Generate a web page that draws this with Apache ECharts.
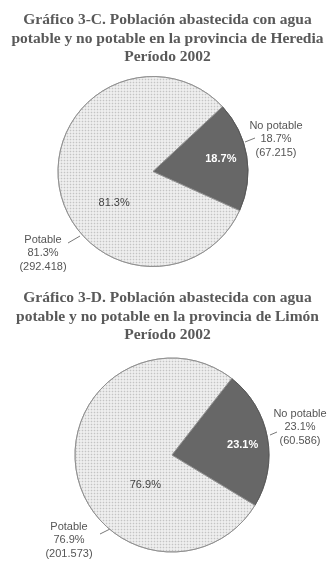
<!DOCTYPE html>
<html>
<head>
<meta charset="utf-8">
<script src="https://cdn.jsdelivr.net/npm/echarts@6/dist/echarts.min.js"></script>
<style>
html,body{margin:0;padding:0;background:#fff;}
#c{width:335px;height:567px;}
</style>
</head>
<body>
<div id="c"></div>
<script>
// ---- data ----
const categories = ['No potable', 'Potable'];
const herediaValues = [67215, 292418];
const limonValues = [60586, 201573];
const titleHeredia = 'Gráfico 3-C. Población abastecida con agua\npotable y no potable en la provincia de Heredia\nPeríodo 2002';
const titleLimon = 'Gráfico 3-D. Población abastecida con agua\npotable y no potable en la provincia de Limón\nPeríodo 2002';

// ---- layout / style ----
const pies = [
  {cx: 153, cy: 171.5, r: 95, start: 43, values: herediaValues,
   inner: [[18, -4], [11, 23]],
   outer: [{x: 276, y: 139, l0: [245, 142], l1: [255, 138]},
           {x: 43, y: 253, l0: [80, 236], l1: [68, 243]}]},
  {cx: 172, cy: 455, r: 97, start: 52, values: limonValues,
   inner: [[20, -1], [24, 21]],
   outer: [{x: 300, y: 427, l0: [270, 435], l1: [277, 432]},
           {x: 69, y: 540, l0: [110, 529], l1: [100, 534]}]}
];
const DARK = '#676767';
const LIGHT = '#f3f3f3';
const NO_DECAL = {symbol: 'rect', symbolSize: 0, color: 'rgba(0,0,0,0)'};
const DOTS = {symbol: 'rect', symbolSize: 0.55, color: '#c4c4c4',
              dashArrayX: [[3, 0]], dashArrayY: [3, 0], rotation: 0};
const fmtNum = v => String(v).replace(/\B(?=(\d{3})+(?!\d))/g, '.');

function mkData(values) {
  return categories.map((n, i) => ({
    name: n, value: values[i],
    itemStyle: i === 0
      ? {color: DARK, borderColor: '#555', borderWidth: 0.8, decal: NO_DECAL}
      : {color: LIGHT, borderColor: '#8a8a8a', borderWidth: 0.8, decal: DOTS}
  }));
}

const series = [];
pies.forEach((p, pi) => {
  series.push({
    type: 'pie', center: [p.cx, p.cy], radius: [0, p.r],
    startAngle: p.start, clockwise: true, percentPrecision: 1,
    silent: true, animation: false,
    data: mkData(p.values),
    label: {
      position: 'inside', formatter: '{d}%',
      fontFamily: 'Liberation Sans, Arial, sans-serif', fontSize: 11,
      color: '#444'
    },
    labelLine: {show: false},
    labelLayout: function (params) {
      const d = p.inner[params.dataIndex];
      return {dx: d[0], dy: d[1]};
    },
    emphasis: {disabled: true}
  });
  series.push({
    type: 'pie', center: [p.cx, p.cy], radius: [0, p.r],
    startAngle: p.start, clockwise: true, percentPrecision: 1,
    silent: true, animation: false,
    data: categories.map((n, i) => ({name: n, value: p.values[i]})),
    itemStyle: {color: 'rgba(0,0,0,0)', decal: NO_DECAL},
    label: {
      position: 'outer', alignTo: 'none', overflow: 'none',
      formatter: params => params.name + '\n' + params.percent.toFixed(1) + '%\n(' + fmtNum(params.value) + ')',
      fontFamily: 'Liberation Sans, Arial, sans-serif', fontSize: 11,
      lineHeight: 13.5, color: '#555', align: 'center'
    },
    labelLine: {show: true, length: 5, length2: 5, lineStyle: {color: '#555', width: 0.8}},
    labelLayout: function (params) {
      const o = p.outer[params.dataIndex];
      return {x: o.x, y: o.y, align: 'center', verticalAlign: 'middle',
              labelLinePoints: [o.l0, o.l1, o.l1]};
    },
    emphasis: {disabled: true}
  });
});
series.forEach((s, i) => {
  if (i % 2 === 0) {
    s.data[0].label = {color: '#fff', fontWeight: 'bold'};
  }
});

const titleStyle = {
  fontFamily: 'Liberation Serif, Times New Roman, serif', fontWeight: 'bold',
  fontSize: 15.5, color: '#595959', lineHeight: 18.5
};

const chart = echarts.init(document.getElementById('c'), null, {renderer: 'canvas'});
chart.setOption({
  backgroundColor: '#fff',
  animation: false,
  aria: {enabled: true, decal: {show: true}},
  title: [
    {text: titleHeredia, left: 'center', top: 6, textStyle: titleStyle},
    {text: titleLimon, left: 'center', top: 284, textStyle: titleStyle}
  ],
  series: series
});
</script>
</body>
</html>
